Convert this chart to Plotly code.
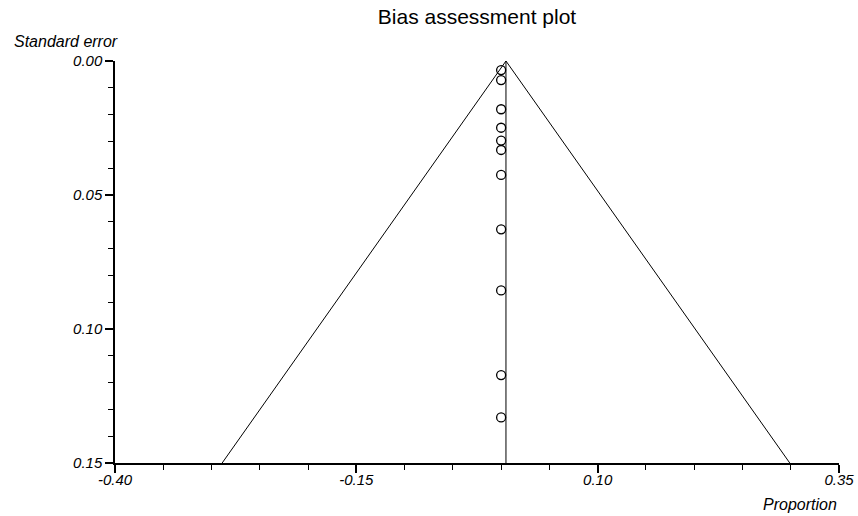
import plotly.graph_objects as go

# Study data
proportions = [0.0, 0.0, 0.0, 0.0, 0.0, 0.0, 0.0, 0.0, 0.0, 0.0, 0.0]
std_errors = [0.0034, 0.0071, 0.0180, 0.0249, 0.0297, 0.0332, 0.0425, 0.0628, 0.0856, 0.1172, 0.1330]

pooled = 0.005
z = 1.96
se_max = 0.15

x_ticks = [-0.40, -0.15, 0.10, 0.35]
x_tick_labels = ["-0.40", "-0.15", "0.10", "0.35"]
y_ticks = [0.00, 0.05, 0.10, 0.15]
y_tick_labels = ["0.00", "0.05", "0.10", "0.15"]

line_style = dict(color="black", width=1)

fig = go.Figure()

# Pseudo confidence triangle
fig.add_trace(go.Scatter(
    x=[pooled - z * se_max, pooled, pooled + z * se_max],
    y=[se_max, 0, se_max],
    mode="lines", line=line_style, hoverinfo="skip", showlegend=False,
))
# Pooled estimate vertical line
fig.add_trace(go.Scatter(
    x=[pooled, pooled], y=[0, se_max],
    mode="lines", line=line_style, hoverinfo="skip", showlegend=False,
))
# Studies
fig.add_trace(go.Scatter(
    x=proportions, y=std_errors, mode="markers",
    marker=dict(symbol="circle-open", size=9, color="black", line=dict(width=1.3)),
    showlegend=False,
))

font_family = "Liberation Sans, Arial, sans-serif"
tickfont = dict(family=font_family, size=15, color="black", style="italic")

fig.update_layout(
    width=858, height=516,
    margin=dict(l=115, r=19, t=61, b=53, autoexpand=False),
    paper_bgcolor="white", plot_bgcolor="white",
    title=dict(text="Bias assessment plot", x=0.5, xref="paper", xanchor="center",
               y=0.967, yanchor="middle", yref="container", pad=dict(t=0, b=0),
               font=dict(family=font_family, size=21, color="black")),
    xaxis=dict(
        range=[-0.40, 0.35], tickvals=x_ticks, ticktext=x_tick_labels, automargin=False,
        showgrid=False, zeroline=False, showline=True, linecolor="black", linewidth=1.5,
        ticks="outside", ticklen=8, tickwidth=1.5, tickcolor="black", ticklabelstandoff=-6,
        minor=dict(dtick=0.05, tick0=-0.40, ticks="outside", ticklen=5, tickwidth=1, tickcolor="black", showgrid=False),
        tickfont=tickfont,
    ),
    yaxis=dict(
        range=[0.15, 0.0], tickvals=y_ticks, ticktext=y_tick_labels, automargin=False,
        showgrid=False, zeroline=False, showline=True, linecolor="black", linewidth=1.5,
        ticks="outside", ticklen=8, tickwidth=1.5, tickcolor="black",
        minor=dict(dtick=0.01, tick0=0.0, ticks="outside", ticklen=5, tickwidth=1, tickcolor="black", showgrid=False),
        tickfont=tickfont,
    ),
    annotations=[
        dict(text="Standard error", xref="paper", yref="paper", x=0, y=1, xshift=-103, yshift=19.5,
             xanchor="left", yanchor="middle", showarrow=False,
             font=dict(family=font_family, size=16, color="black", style="italic")),
        dict(text="Proportion", xref="paper", yref="paper", x=1, y=0, yshift=-41,
             xanchor="right", yanchor="middle", showarrow=False,
             font=dict(family=font_family, size=16, color="black", style="italic")),
    ],
)

# Remove the browser's default 8px body margin so the figure fills the window exactly.
fig.write_html("out.html", config={"displayModeBar": False},
               post_script="document.body.style.margin='0';")
